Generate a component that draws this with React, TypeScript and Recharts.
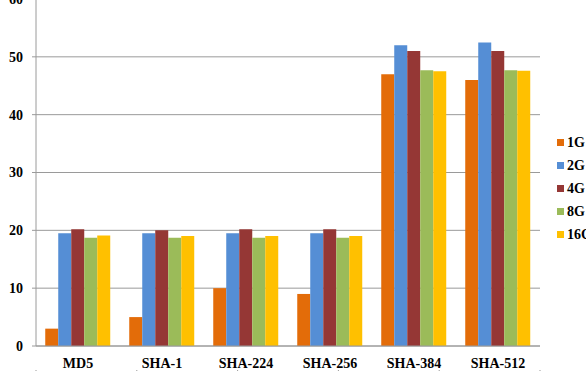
import { BarChart, Bar, XAxis, YAxis, CartesianGrid } from 'recharts';

const categories = ['MD5', 'SHA-1', 'SHA-224', 'SHA-256', 'SHA-384', 'SHA-512'];
const g1 = [3, 5, 10, 9, 47, 46];
const g2 = [19.5, 19.5, 19.5, 19.5, 52, 52.5];
const g4 = [20.2, 20, 20.2, 20.2, 51, 51];
const g8 = [18.7, 18.7, 18.7, 18.7, 47.7, 47.7];
const g16 = [19.1, 19, 19, 19, 47.5, 47.6];
const yTicks = [0, 10, 20, 30, 40, 50, 60];
const boundaryTicks = [0, 1, 2, 3, 4, 5, 6];

const series = [
  { key: '1G', values: g1, color: '#E36C09' },
  { key: '2G', values: g2, color: '#558ED5' },
  { key: '4G', values: g4, color: '#953735' },
  { key: '8G', values: g8, color: '#9BBB59' },
  { key: '16G', values: g16, color: '#FFC000' },
];

const data = categories.map((name, i) => {
  const row: Record<string, string | number> = { name };
  series.forEach((s) => {
    row[s.key] = s.values[i];
  });
  return row;
});

const font = '"Liberation Serif", serif';
const axisColor = '#9a9a9a';
const tickStyle = { fontSize: 14, fontWeight: 'bold', fill: '#000', fontFamily: font };

export default function App() {
  return (
    <div
      style={{
        position: 'absolute',
        top: 0,
        left: 0,
        width: 586,
        height: 371,
        overflow: 'hidden',
        fontFamily: font,
      }}
    >
      <div style={{ position: 'absolute', top: -11, left: 0 }}>
        <BarChart
          width={586}
          height={382}
          data={data}
          margin={{ top: 10, right: 46, left: 0, bottom: 0 }}
          barCategoryGap="11%"
          barGap={0}
        >
          <CartesianGrid vertical={false} stroke={axisColor} strokeWidth={1} />
          <XAxis
            xAxisId="b"
            type="number"
            domain={[0, 6]}
            ticks={boundaryTicks}
            tick={() => <g />}
            tickLine={{ stroke: axisColor }}
            tickSize={5}
            axisLine={false}
            height={1}
          />
          <XAxis
            dataKey="name"
            tick={tickStyle}
            tickLine={false}
            axisLine={{ stroke: axisColor }}
            height={24}
            tickMargin={6}
            interval={0}
          />
          <YAxis
            domain={[0, 60]}
            ticks={yTicks}
            tick={tickStyle}
            tickLine={{ stroke: axisColor }}
            tickSize={4}
            tickMargin={9}
            axisLine={{ stroke: axisColor }}
            width={36}
          />
          {series.map((s) => (
            <Bar key={s.key} dataKey={s.key} fill={s.color} isAnimationActive={false} />
          ))}
        </BarChart>
      </div>
      <div
        style={{
          position: 'absolute',
          left: 557,
          top: 131,
          fontWeight: 'bold',
          fontSize: 14,
          whiteSpace: 'nowrap',
        }}
      >
        {series.map((s) => (
          <div key={s.key} style={{ display: 'flex', alignItems: 'center', height: 23 }}>
            <span style={{ width: 7, height: 7, background: s.color, marginRight: 3 }} />
            <span>{s.key}</span>
          </div>
        ))}
      </div>
    </div>
  );
}
